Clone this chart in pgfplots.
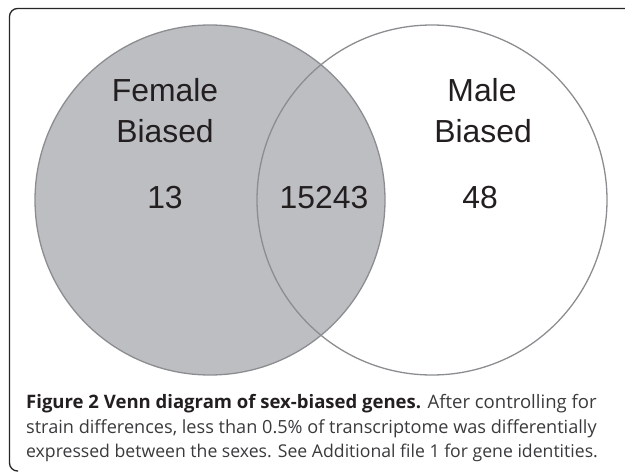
\documentclass[border=0pt]{standalone}
\usepackage{fontspec}
\setmainfont{Liberation Sans}
\newfontfamily\capfont{Open Sans}
\usepackage{pgfplots}
\pgfplotsset{compat=1.18}
\definecolor{venngray}{HTML}{BDBEC2}
\definecolor{vennedge}{HTML}{8C8D90}
\definecolor{ink}{HTML}{231F20}
\definecolor{capink}{HTML}{3A3A3C}
\begin{document}
\begin{tikzpicture}
\begin{axis}[
    width=625bp, height=473bp, scale only axis,
    xmin=0, xmax=625, ymin=0, ymax=473,
    y dir=reverse, hide axis, clip=false,
]
% frame
\draw[line width=1.3bp, color=black!85, rounded corners=8bp]
  (axis cs:18,471) -- (axis cs:9.5,471) -- (axis cs:9.5,8.5) -- (axis cs:660,8.5);
% circles: centre, radius 175 units (1 unit = 1bp)
\addplot[only marks, mark=*, mark size=175bp,
  mark options={fill=venngray, draw=vennedge, line width=1.3bp}]
  coordinates {(210,200)};
\addplot[only marks, mark=o, mark size=175bp,
  mark options={draw=vennedge, line width=1.3bp}]
  coordinates {(432,200)};
% set names and gene counts
\addplot[only marks, mark=none, point meta=explicit symbolic,
  nodes near coords,
  every node near coord/.style={anchor=base, inner sep=0pt, font=\fontsize{32}{36}\selectfont, text=ink}]
  coordinates {
    (165,102) [Female] (165,142) [Biased]
    (482,102) [Male]   (483,142) [Biased]
    (165,208) [13] (324,208) [15243] (480,208) [48]};
% caption
\node[anchor=base west, inner sep=0pt, font=\capfont\fontsize{18.6}{22}\selectfont, text=capink] at (axis cs:26,408)
  {\textcolor{ink}{\bfseries Figure 2 Venn diagram of sex-biased genes.} After controlling for};
\node[anchor=base west, inner sep=0pt, font=\capfont\fontsize{18.2}{22}\selectfont, text=capink] at (axis cs:26,433)
  {strain differences, less than 0.5\% of transcriptome was differentially};
\node[anchor=base west, inner sep=0pt, font=\capfont\fontsize{17.7}{22}\selectfont, text=capink] at (axis cs:26,457)
  {expressed between the sexes. See Additional file 1 for gene identities.};
\end{axis}
\pgfresetboundingbox
\path (current axis.south west) rectangle (current axis.north east);
\end{tikzpicture}
\end{document}
